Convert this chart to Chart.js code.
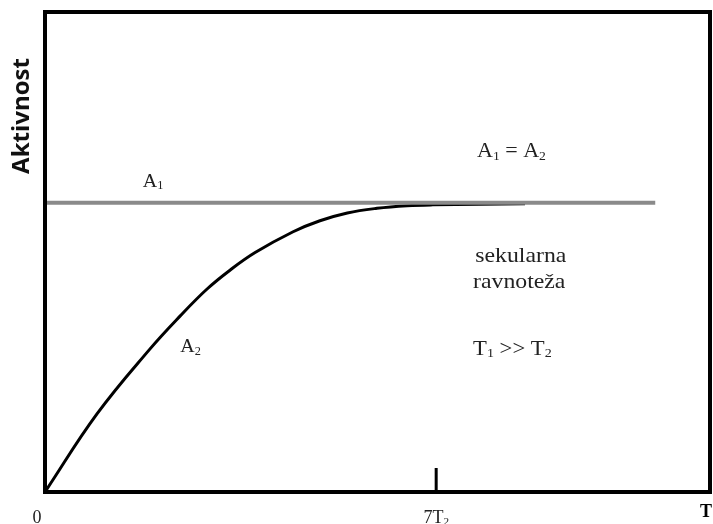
<!DOCTYPE html>
<html>
<head>
<meta charset="utf-8">
<script src="https://cdn.jsdelivr.net/npm/chart.js@4.4.0/dist/chart.umd.min.js"></script>
<style>
  html, body { margin: 0; padding: 0; background: #fff; }
  #wrap { width: 713px; height: 524px; }
</style>
</head>
<body>
<div id="wrap"><canvas id="grafikon" width="713" height="524"></canvas></div>
<script>
// Vrijeme u jedinicama T2, aktivnost relativno prema A1
const vrijemeA2 = [0, 0.93, 1.88, 2.42, 2.90, 3.31, 3.76, 4.44, 4.92, 5.41, 5.94, 6.48, 6.94, 8.59];
const aktivnostA2 = [0, 0.270, 0.495, 0.609, 0.702, 0.767, 0.828, 0.900, 0.938, 0.965, 0.981, 0.990, 0.993, 0.997];
const vrijemeA1 = [0, 10.92];
const aktivnostA1 = [1, 1];
const oznakaVremena = 7;          // 7T2
const visinaOznake = 0.083;
const xMax = 11.9;
const yMax = 1.66;

const serif = '"Liberation Serif", "Times New Roman", serif';

// crta tekst sa indeksima, dijelovi: [tekst, jeIndeks]
function tekstSaIndeksom(ctx, dijelovi, x, y, vel, poravnanje, sirenje) {
    ctx.save();
    let ukupno = 0;
    dijelovi.forEach(([t, ind]) => {
        ctx.font = (ind ? vel * 0.62 : vel) + 'px ' + serif;
        ukupno += ctx.measureText(t).width;
    });
    ctx.translate(x, y);
    ctx.scale(sirenje, 1);
    let pomak = poravnanje === 'center' ? -ukupno / 2 : 0;
    ctx.textAlign = 'left';
    ctx.textBaseline = 'alphabetic';
    dijelovi.forEach(([t, ind]) => {
        ctx.font = (ind ? vel * 0.62 : vel) + 'px ' + serif;
        ctx.fillText(t, pomak, ind ? vel * 0.12 : 0);
        pomak += ctx.measureText(t).width;
    });
    ctx.restore();
}

const okvirIOznake = {
    id: 'okvirIOznake',
    afterDatasetsDraw(chart) {
        const { ctx, chartArea: a, scales: { x, y } } = chart;
        ctx.save();
        // okvir
        ctx.strokeStyle = '#000';
        ctx.lineWidth = 4;
        ctx.strokeRect(a.left, a.top, a.right - a.left, a.bottom - a.top);

        ctx.fillStyle = '#222';
        tekstSaIndeksom(ctx, [['A', false], ['1', true]], x.getPixelForValue(1.75), y.getPixelForValue(1.055), 19, 'left', 1.05);
        tekstSaIndeksom(ctx, [['A', false], ['2', true]], x.getPixelForValue(2.42), y.getPixelForValue(0.483), 19, 'left', 1.05);
        tekstSaIndeksom(ctx, [['A', false], ['1', true], [' = ', false], ['A', false], ['2', true]], x.getPixelForValue(7.73), y.getPixelForValue(1.157), 21, 'left', 1.05);
        tekstSaIndeksom(ctx, [['sekularna', false]], x.getPixelForValue(7.70), y.getPixelForValue(0.796), 22, 'left', 1.08);
        tekstSaIndeksom(ctx, [['ravnoteža', false]], x.getPixelForValue(7.66), y.getPixelForValue(0.706), 22, 'left', 1.08);
        tekstSaIndeksom(ctx, [['T', false], ['1', true], [' >> ', false], ['T', false], ['2', true]], x.getPixelForValue(7.66), y.getPixelForValue(0.474), 21, 'left', 1.08);

        // oznake na osi x
        tekstSaIndeksom(ctx, [['0', false]], a.left - 8, a.bottom + 31, 18, 'center', 1);
        tekstSaIndeksom(ctx, [['7T', false], ['2', true]], x.getPixelForValue(oznakaVremena), a.bottom + 31, 18, 'center', 1);
        ctx.font = 'bold 18px ' + serif;
        ctx.textAlign = 'center';
        ctx.fillStyle = '#000';
        ctx.fillText('T', a.right - 4, a.bottom + 25);

        // naziv osi y
        ctx.translate(22, 116);
        ctx.rotate(-Math.PI / 2);
        ctx.font = 'bold 24px "Open Sans", sans-serif';
        ctx.textAlign = 'center';
        ctx.textBaseline = 'middle';
        ctx.fillStyle = '#111';
        ctx.fillText('Aktivnost', 0, 0);
        ctx.restore();
    }
};

new Chart(document.getElementById('grafikon'), {
    type: 'scatter',
    data: {
        datasets: [
            {
                label: 'A1',
                data: vrijemeA1.map((t, i) => ({ x: t, y: aktivnostA1[i] })),
                showLine: true,
                borderColor: '#8a8a8a',
                borderWidth: 4,
                pointRadius: 0,
                order: 1
            },
            {
                label: 'A2',
                data: vrijemeA2.map((t, i) => ({ x: t, y: aktivnostA2[i] })),
                showLine: true,
                borderColor: '#000',
                borderWidth: 3,
                pointRadius: 0,
                tension: 0.4,
                order: 2
            },
            {
                label: '7T2',
                data: [{ x: oznakaVremena, y: 0 }, { x: oznakaVremena, y: visinaOznake }],
                showLine: true,
                borderColor: '#000',
                borderWidth: 3,
                pointRadius: 0,
                order: 0
            }
        ]
    },
    options: {
        responsive: false,
        animation: false,
        layout: { padding: { left: 45, right: 3, top: 12, bottom: 32 } },
        scales: {
            x: { type: 'linear', min: 0, max: xMax, display: false },
            y: { type: 'linear', min: 0, max: yMax, display: false }
        },
        plugins: {
            legend: { display: false },
            tooltip: { enabled: false }
        }
    },
    plugins: [okvirIOznake]
});
</script>
</body>
</html>
